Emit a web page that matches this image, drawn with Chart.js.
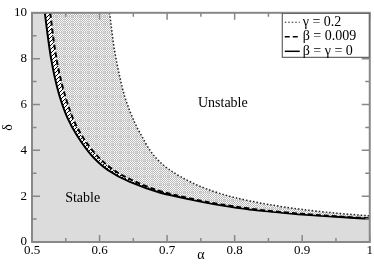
<!DOCTYPE html>
<html>
<head>
<meta charset="utf-8">
<script src="https://cdn.jsdelivr.net/npm/chart.js@4/dist/chart.umd.min.js"></script>
<style>
  html, body { margin: 0; padding: 0; background: #fff; }
</style>
</head>
<body>
<canvas id="stability" width="374" height="268"></canvas>
<script>
// Boundary curves (alpha -> delta)
const gammaAlpha = [0.615, 0.618, 0.622, 0.63, 0.64, 0.66, 0.689, 0.72, 0.76, 0.8, 0.85, 0.9, 0.95, 1.0];
const gammaDelta = [10, 9.25, 8.4, 7.2, 6.1, 4.75, 3.5, 2.85, 2.3, 1.94, 1.64, 1.42, 1.26, 1.14];

const betaAlpha = [0.527, 0.534, 0.541, 0.552, 0.566, 0.59, 0.618, 0.645, 0.69, 0.734, 0.78, 0.822, 0.86, 0.9, 0.95, 1.0];
const betaDelta = [10, 8.4, 7.3, 6.1, 5.05, 3.98, 3.2, 2.74, 2.22, 1.9, 1.64, 1.46, 1.33, 1.23, 1.12, 1.03];

const zeroAlpha = [0.519, 0.524, 0.528, 0.534, 0.541, 0.552, 0.566, 0.59, 0.612, 0.645, 0.69, 0.734, 0.78, 0.822, 0.86, 0.9, 0.95, 1.0];
const zeroDelta = [10, 8.85, 8.05, 7.15, 6.35, 5.45, 4.68, 3.72, 3.15, 2.62, 2.15, 1.86, 1.6, 1.42, 1.31, 1.2, 1.1, 1.01];

const seriesLabels = ['γ = 0.2', 'β = 0.009', 'β = γ = 0'];
const xTickLabels = ['0.5', '0.6', '0.7', '0.8', '0.9', '1'];
const yTickLabels = ['0', '2', '4', '6', '8', '10'];

const SERIF = "'Liberation Serif'";
Chart.defaults.font.family = SERIF;
Chart.defaults.color = '#000';

const canvas = document.getElementById('stability');
const ctx = canvas.getContext('2d');

// fine checker with a light grid, for the band between beta and gamma curves
function checkerPattern() {
  const c = document.createElement('canvas');
  c.width = 8; c.height = 8;
  const g = c.getContext('2d');
  g.fillStyle = '#fff';
  g.fillRect(0, 0, 8, 8);
  g.fillStyle = '#b4b4b4';
  for (let i = 0; i < 8; i++)
    for (let j = 0; j < 8; j++)
      if ((i + j) % 2 === 0) g.fillRect(i, j, 1, 1);
  g.fillStyle = '#d2d2d2';
  g.fillRect(0, 0, 8, 1);
  g.fillRect(0, 0, 1, 8);
  return ctx.createPattern(c, 'repeat');
}

// diagonal hatch between the beta=0 and beta=0.009 curves
function hatchPattern() {
  const c = document.createElement('canvas');
  c.width = 4; c.height = 4;
  const g = c.getContext('2d');
  g.fillStyle = '#fff';
  g.fillRect(0, 0, 4, 4);
  g.strokeStyle = '#000';
  g.lineWidth = 1;
  g.beginPath();
  g.moveTo(0, 4); g.lineTo(4, 0);
  g.moveTo(-1, 1); g.lineTo(1, -1);
  g.moveTo(3, 5); g.lineTo(5, 3);
  g.stroke();
  return ctx.createPattern(c, 'repeat');
}

const toPoints = (xs, ys) => xs.map((x, i) => ({ x: x, y: ys[i] }));

const framePlugin = {
  id: 'frame',
  beforeDraw(chart) {
    const a = chart.chartArea;
    const c = chart.ctx;
    c.save();
    c.fillStyle = '#dcdcdc';
    c.fillRect(a.left, a.top, a.right - a.left, a.bottom - a.top);
    c.restore();
  },
  afterDraw(chart) {
    const a = chart.chartArea;
    const c = chart.ctx;
    const xs = chart.scales.x, ys = chart.scales.y;
    c.save();

    // region names
    c.fillStyle = '#000';
    c.font = '14px ' + SERIF;
    c.textAlign = 'center';
    c.textBaseline = 'middle';
    c.fillText('Unstable', xs.getPixelForValue(0.7825), ys.getPixelForValue(6.03));
    c.fillText('Stable', xs.getPixelForValue(0.575), ys.getPixelForValue(1.9));

    // inward ticks on all four sides
    c.strokeStyle = '#888';
    c.lineWidth = 1.5;
    c.beginPath();
    for (let k = 0; k <= 10; k++) {
      const px = xs.getPixelForValue(0.5 + k * 0.05);
      const len = k % 2 === 0 ? 7 : 4;
      c.moveTo(px, a.bottom); c.lineTo(px, a.bottom - len);
      c.moveTo(px, a.top); c.lineTo(px, a.top + len);
    }
    for (let k = 0; k <= 10; k++) {
      const py = ys.getPixelForValue(k);
      const len = k % 2 === 0 ? 8 : 4.5;
      c.moveTo(a.left, py); c.lineTo(a.left + len, py);
      c.moveTo(a.right, py); c.lineTo(a.right - len, py);
    }
    c.stroke();
    c.lineWidth = 2;
    c.strokeRect(a.left, a.top, a.right - a.left, a.bottom - a.top);

    // legend box, top right
    const lw = 88, lh = 45;
    const lx = a.right - lw, ly = a.top;
    c.fillStyle = '#fff';
    c.fillRect(lx, ly, lw, lh);
    c.strokeStyle = '#444';
    c.lineWidth = 1;
    c.strokeRect(lx + 0.5, ly + 0.5, lw - 1, lh - 1);
    c.textAlign = 'left';
    c.font = '14px ' + SERIF;
    chart.data.datasets.forEach((ds, i) => {
      const yy = ly + 9.5 + i * 14.5;
      c.setLineDash(ds.borderDash || []);
      c.lineWidth = ds.borderWidth * 0.75;
      c.strokeStyle = ds.borderColor;
      c.beginPath();
      c.moveTo(lx + 3, yy);
      c.lineTo(lx + 18, yy);
      c.stroke();
      c.setLineDash([]);
      c.fillStyle = '#000';
      c.fillText(ds.label, lx + 21, yy);
    });
    c.restore();
  }
};

new Chart(ctx, {
  type: 'line',
  data: {
    datasets: [
      {
        label: seriesLabels[0],
        data: toPoints(gammaAlpha, gammaDelta),
        borderColor: '#222',
        borderWidth: 1.5,
        borderDash: [1.5, 2],
        backgroundColor: '#fff',
        fill: { value: 1 }
      },
      {
        label: seriesLabels[1],
        data: toPoints(betaAlpha, betaDelta),
        borderColor: '#000',
        borderWidth: 2,
        borderDash: [5, 3],
        backgroundColor: checkerPattern(),
        fill: '-1'
      },
      {
        label: seriesLabels[2],
        data: toPoints(zeroAlpha, zeroDelta),
        borderColor: '#000',
        borderWidth: 2,
        backgroundColor: hatchPattern(),
        fill: '-1'
      }
    ]
  },
  options: {
    indexAxis: 'y',
    responsive: false,
    animation: false,
    layout: { autoPadding: false, padding: { top: 5, right: 4, bottom: 0, left: 0 } },
    elements: {
      point: { radius: 0 },
      line: { cubicInterpolationMode: 'monotone' }
    },
    plugins: {
      legend: { display: false },
      tooltip: { enabled: false }
    },
    scales: {
      x: {
        type: 'linear',
        position: 'bottom',
        min: 0.5,
        max: 1,
        grid: { display: false, drawTicks: false },
        border: { display: false },
        ticks: {
          stepSize: 0.1,
          padding: 1,
          maxRotation: 0,
          autoSkip: false,
          font: { family: SERIF, size: 13 },
          callback: (v, i) => xTickLabels[i]
        },
        title: { display: true, text: 'α', font: { family: SERIF, size: 14 }, padding: { top: 0, bottom: 4 } },
        afterFit: s => { s.height = 26; }
      },
      y: {
        type: 'linear',
        position: 'left',
        min: 0,
        max: 10,
        grid: { display: false, drawTicks: false },
        border: { display: false },
        ticks: {
          stepSize: 2,
          padding: 5,
          autoSkip: false,
          font: { family: SERIF, size: 13 },
          callback: (v, i) => yTickLabels[i]
        },
        title: { display: true, text: 'δ', font: { family: SERIF, size: 14 }, padding: { top: 0, bottom: 0 } },
        afterFit: s => { s.width = 32; }
      }
    }
  },
  plugins: [framePlugin]
});
</script>
</body>
</html>
